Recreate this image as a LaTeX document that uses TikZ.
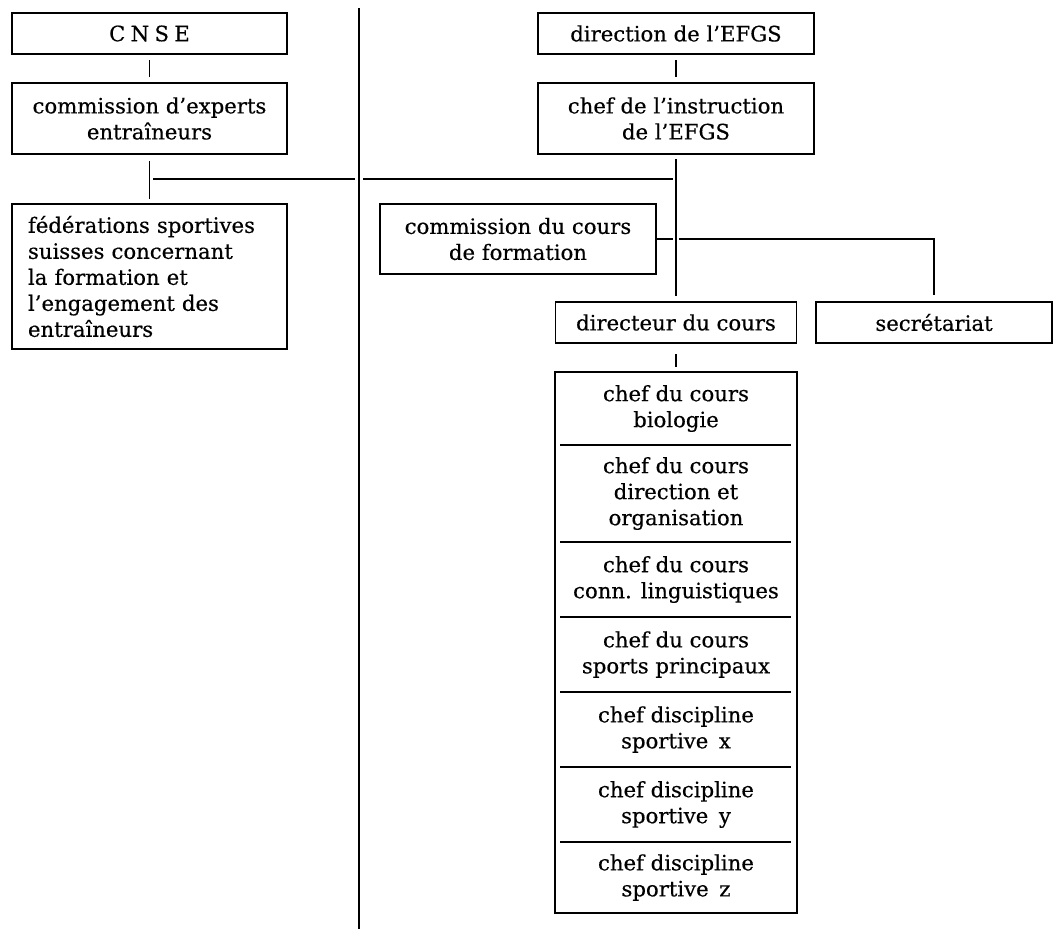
\documentclass[tikz,border=0pt]{standalone}
\usepackage{fontspec}
\setmainfont{DejaVu Serif}[FakeBold=0.4]

\begin{document}
\begin{tikzpicture}[x=1pt, y=-1pt, line width=1.6pt,
  font=\fontsize{21.2}{26}\selectfont,
  boite/.style={draw, inner sep=0pt, outer sep=0pt, align=center},
  case/.style={inner sep=0pt, outer sep=0pt, align=center, minimum width=242pt}]
  \useasboundingbox (0,0) rectangle (1054,929);
  % colonne de gauche
  \node[boite, minimum width=275pt, minimum height=41pt] (cnse) at (149.5,33.5) {C\hspace{0.25em}N\hspace{0.25em}S\hspace{0.25em}E};
  \node[boite, minimum width=275pt, minimum height=71pt] (experts) at (149.5,118.5) {commission d’experts\\entraîneurs};
  \node[boite, minimum width=275pt, minimum height=145pt, text width=243pt, align=left] (federations) at (149.5,276.5)
    {fédérations sportives\\suisses concernant\\la formation et\\l’engagement des\\entraîneurs};
  % colonne de droite
  \node[boite, minimum width=276pt, minimum height=41pt] (direction) at (676,33.5) {direction de l’EFGS};
  \node[boite, minimum width=276pt, minimum height=71pt] (chef) at (676,118.5) {chef de l’instruction\\de l’EFGS};
  \node[boite, minimum width=276pt, minimum height=70pt] (commission) at (518,239) {commission du cours\\de formation};
  \node[boite, minimum width=241pt, minimum height=41pt] (directeur) at (676,322.5) {directeur du cours};
  \node[boite, minimum width=236pt, minimum height=41pt] (secretariat) at (934,322.5) {secrétariat};
  % chefs de cours
  \node[case, minimum height=73pt] (c1) at (676,408.5) {chef du cours\\biologie};
  \node[case, minimum height=97pt] (c2) at (676,493.5) {chef du cours\\direction et\\organisation};
  \node[case, minimum height=75pt] (c3) at (676,579.5) {chef du cours\\conn. linguistiques};
  \node[case, minimum height=75pt] (c4) at (676,654.5) {chef du cours\\sports principaux};
  \node[case, minimum height=75pt] (c5) at (676,729.5) {chef discipline\\sportive\enspace x};
  \node[case, minimum height=75pt] (c6) at (676,804.5) {chef discipline\\sportive\enspace y};
  \node[case, minimum height=71pt] (c7) at (676,877.5) {chef discipline\\sportive\enspace z};
  \draw (c1.north west) rectangle (c7.south east);
  \foreach \i in {1,...,6}
    \draw ([xshift=5pt]c\i.south west) -- ([xshift=-6pt]c\i.south east);
  % separation
  \coordinate (haut) at (359,8);
  \coordinate (bas) at (359,929);
  \draw (haut) -- (bas);
  % liaisons
  \draw[shorten <=6pt, shorten >=6pt] (cnse) -- (experts);
  \draw[shorten <=7pt, shorten >=5pt] (experts) -- (federations);
  \draw[shorten <=6pt, shorten >=6pt] (direction) -- (chef);
  \draw[shorten <=5pt, shorten >=6pt] (chef) -- (directeur);
  \draw[shorten <=11pt, shorten >=5pt] (directeur) -- (c1);
  \coordinate (g1) at (153,179);
  \coordinate (g2) at (355,179);
  \coordinate (d1) at (363,179);
  \coordinate (d2) at (673,179);
  \draw (g1) -- (g2);
  \draw (d1) -- (d2);
  \coordinate (k1) at (673,239);
  \coordinate (k2) at (679,239);
  \draw (commission.east) -- (k1);
  \draw (k2) -| ([yshift=7pt]secretariat.north);
\end{tikzpicture}
\end{document}
